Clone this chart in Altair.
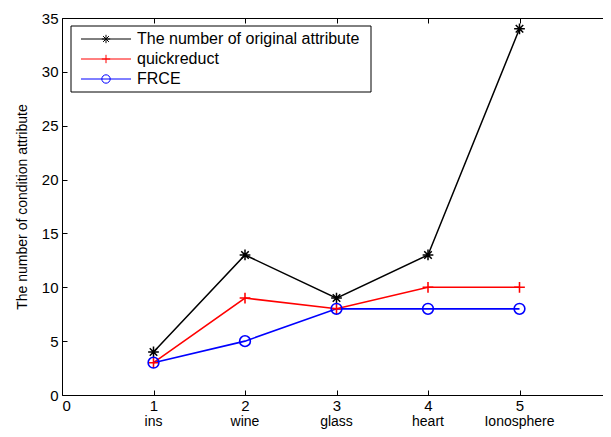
import altair as alt
import pandas as pd

# ---- data ----
categories = ["ins", "wine", "glass", "heart", "Ionosphere"]
x_pos = [1, 2, 3, 4, 5]
series = ["The number of original attribute", "quickreduct", "FRCE"]
original = [4, 13, 9, 13, 34]
quickreduct = [3, 9, 8, 10, 10]
frce = [3, 5, 8, 8, 8]
x_ticks = [0, 1, 2, 3, 4, 5, 6]
x_labels = [0, 1, 2, 3, 4, 5]
y_ticks = [0, 5, 10, 15, 20, 25, 30, 35]
y_title = "The number of condition attribute"

# ---- styles ----
colors = ["#000000", "#ff0000", "#0000ff"]
widths = [1.5, 1.6, 1.0]
ASTERISK = "M-1,0L1,0M0,-1L0,1M-0.7,-0.7L0.7,0.7M-0.7,0.7L0.7,-0.7"
PLUS = "M-1,0L1,0M0,-1L0,1"
shapes = [ASTERISK, PLUS, "circle"]
FONT = "Liberation Sans"
W, H = 549, 377

rows = []
for s, vals in zip(series, [original, quickreduct, frce]):
    for c, x, v in zip(categories, x_pos, vals):
        rows.append({"series": s, "x": x, "value": v, "category": c})
df = pd.DataFrame(rows)
cat_df = pd.DataFrame({"x": x_pos, "category": categories})
leg_df = pd.DataFrame({"series": series})
one = pd.DataFrame({"a": [0]})

xscale = alt.Scale(domain=[0, 6], nice=False, zero=False)
yscale = alt.Scale(domain=[0, 35], nice=False)
color = alt.Color("series:N", scale=alt.Scale(domain=series, range=colors), legend=None)
shape = alt.Shape("series:N", scale=alt.Scale(domain=series, range=shapes), legend=None)
swidth = alt.StrokeWidth("series:N", scale=alt.Scale(domain=series, range=widths), legend=None)


def tick_axis(orient, values):
    return alt.Axis(orient=orient, values=values, offset=-5, tickSize=5, ticks=True,
                    labels=False, domain=False, grid=False, title=None,
                    tickColor="black", tickWidth=1)


lines = alt.Chart(df).mark_line().encode(
    x=alt.X("x:Q", scale=xscale,
            axis=alt.Axis(orient="bottom", values=x_labels, ticks=False, domain=False,
                          grid=False, labelPadding=3, title=None, format="d")),
    y=alt.Y("value:Q", scale=yscale,
            axis=alt.Axis(orient="left", values=y_ticks, ticks=False, domain=False,
                          grid=False, labelPadding=4, title=y_title, titlePadding=12,
                          titleFontSize=14, titleFontWeight="normal", titleFont=FONT,
                          titleColor="black")),
    color=color,
    strokeWidth=swidth,
)

points = alt.Chart(df).mark_point(filled=False, size=115, opacity=1).encode(
    x=alt.X("x:Q", scale=xscale, axis=tick_axis("bottom", x_ticks)),
    y=alt.Y("value:Q", scale=yscale, axis=tick_axis("left", y_ticks)),
    color=color,
    shape=shape,
    strokeWidth=swidth,
)

ghost = alt.Chart(df).mark_point(opacity=0).encode(
    x=alt.X("x:Q", scale=xscale, axis=tick_axis("top", x_ticks)),
    y=alt.Y("value:Q", scale=yscale, axis=tick_axis("right", y_ticks)),
)

cat_text = alt.Chart(cat_df).mark_text(font=FONT, fontSize=14, baseline="alphabetic",
                                       align="center", color="black").encode(
    x=alt.X("x:Q", scale=xscale, axis=None),
    y=alt.value(H + 31),
    text="category:N",
)

legend_y = alt.Y("series:N", scale=alt.Scale(type="point", domain=series, range=[21, 61], padding=0),
                 axis=None)

leg_box = alt.Chart(one).mark_rect(fill="white", stroke="black", strokeWidth=1).encode(
    x=alt.value(9), x2=alt.value(309), y=alt.value(8), y2=alt.value(74)
)
leg_rule = alt.Chart(leg_df).mark_rule(strokeWidth=1).encode(
    x=alt.value(19), x2=alt.value(69), y=legend_y, color=color
)
leg_pt = alt.Chart(leg_df).mark_point(filled=False, size=70, strokeWidth=1, opacity=1).encode(
    x=alt.value(44), y=legend_y, color=color, shape=shape
)
leg_txt = alt.Chart(leg_df).mark_text(align="left", baseline="middle", fontSize=16, font=FONT,
                                      color="black").encode(
    x=alt.value(75), y=legend_y, text="series:N"
)

chart = alt.layer(
    lines, points, ghost, cat_text, leg_box, leg_rule, leg_pt, leg_txt
).resolve_scale(
    y="independent"
).resolve_axis(
    x="independent", y="independent"
).properties(
    width=W, height=H,
    padding={"left": 54, "top": 10, "right": -8, "bottom": 34},
    autosize=alt.AutoSizeParams(type="none"),
    background="white",
).configure_view(
    stroke="black", strokeWidth=1
).configure_axis(
    labelFont=FONT, labelFontSize=15, labelColor="black",
    tickColor="black", domainColor="black",
)

chart.save("out.html", embed_options={"renderer": "svg", "actions": False})
